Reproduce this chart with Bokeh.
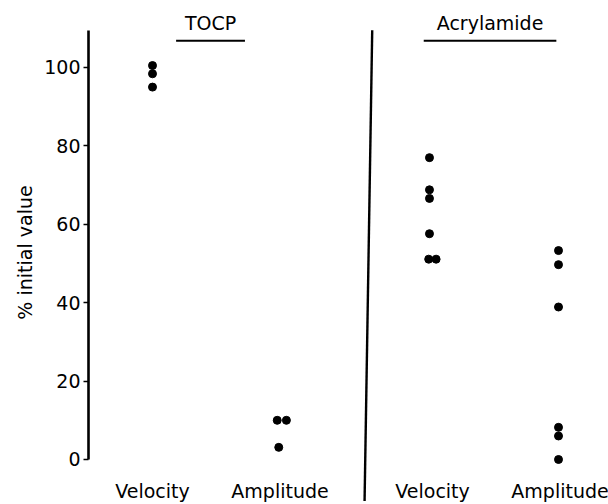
from bokeh.plotting import figure
from bokeh.models import ColumnDataSource, Range1d, FixedTicker
from bokeh.core.properties import value
from bokeh.embed import file_html
from bokeh.resources import INLINE

# ---- data ----
panels = ["TOCP", "Acrylamide"]
measures = ["Velocity", "Amplitude"]

tocp_velocity = [100.5, 98.4, 95.0]
tocp_amplitude = [10.0, 10.0, 3.1]
acryl_velocity = [77.0, 68.8, 66.6, 57.6, 51.1, 51.1]
acryl_amplitude = [53.3, 49.7, 38.9, 8.2, 6.0, 0.0]

# small horizontal dodge of touching dots (in category units)
tocp_velocity_dodge = [0.0, 0.0, 0.0]
tocp_amplitude_dodge = [-0.022, 0.05, -0.01]
acryl_velocity_dodge = [-0.024, -0.024, -0.024, -0.024, -0.03, 0.028]
acryl_amplitude_dodge = [-0.012] * 6

y_ticks = [0, 20, 40, 60, 80, 100]
y_label = "% initial value"

PANEL_GAP = 0.196
FONT = "DejaVu Sans"


def xpos(panel, measure):
    return panels.index(panel) * (2 + PANEL_GAP) + measures.index(measure)


series = [
    ("TOCP", "Velocity", tocp_velocity, tocp_velocity_dodge),
    ("TOCP", "Amplitude", tocp_amplitude, tocp_amplitude_dodge),
    ("Acrylamide", "Velocity", acryl_velocity, acryl_velocity_dodge),
    ("Acrylamide", "Amplitude", acryl_amplitude, acryl_amplitude_dodge),
]

xs, ys = [], []
for panel, measure, vals, dodge in series:
    for v, d in zip(vals, dodge):
        xs.append(xpos(panel, measure) + d)
        ys.append(v)
pts = ColumnDataSource(dict(x=xs, y=ys))

p = figure(
    width=608, height=504,
    x_range=Range1d(-0.502, 3.576),
    y_range=Range1d(-11.48, 117.09),
    x_axis_location=None,
    output_backend="svg", toolbar_location=None,
    min_border_left=88, min_border_right=0,
    min_border_top=0, min_border_bottom=0,
)
p.outline_line_color = None
p.grid.grid_line_color = None
p.background_fill_color = "white"
p.border_fill_color = "white"

ax = p.yaxis[0]
ax.bounds = (0, 109.5)
ax.ticker = FixedTicker(ticks=y_ticks)
ax.minor_tick_line_color = None
ax.major_tick_in = 0
ax.major_tick_out = 5
ax.major_tick_line_width = 1.5
ax.major_tick_line_color = "black"
ax.axis_line_width = 2.6
ax.axis_line_color = "black"
ax.major_label_standoff = 3
ax.major_label_text_font = FONT
ax.major_label_text_font_size = "19px"
ax.major_label_text_color = "black"
ax.axis_label = y_label
ax.axis_label_text_font = FONT
ax.axis_label_text_font_size = "19px"
ax.axis_label_text_font_style = "normal"
ax.axis_label_text_color = "black"
ax.axis_label_standoff = 5

# points
p.scatter("x", "y", source=pts, size=8, color="black")

# panel separator (slightly slanted as drawn)
p.segment(x0=[1.723], y0=[109.5], x1=[1.663], y1=[-10.6],
          line_color="black", line_width=2.4)

# category labels below
lab_x, lab_t = [], []
for panel in panels:
    for m in measures:
        lab_x.append(xpos(panel, m))
        lab_t.append(m)
p.text(x=lab_x, y=[-8.0] * len(lab_x), text=lab_t,
       text_font=value(FONT), text_font_size="19px",
       text_align="center", text_baseline="middle", text_color="black")

# panel titles with underline
title_x = [0.455, 2.647]
title_half_width = [0.27, 0.52]
p.text(x=title_x, y=[111.3, 111.3], text=panels,
       text_font=value(FONT), text_font_size="19px",
       text_align="center", text_baseline="middle", text_color="black")
p.segment(x0=[c - w for c, w in zip(title_x, title_half_width)], y0=[106.8, 106.8],
          x1=[c + w for c, w in zip(title_x, title_half_width)], y1=[106.8, 106.8],
          line_color="black", line_width=2)

open("out.html", "w").write(file_html(p, INLINE))
